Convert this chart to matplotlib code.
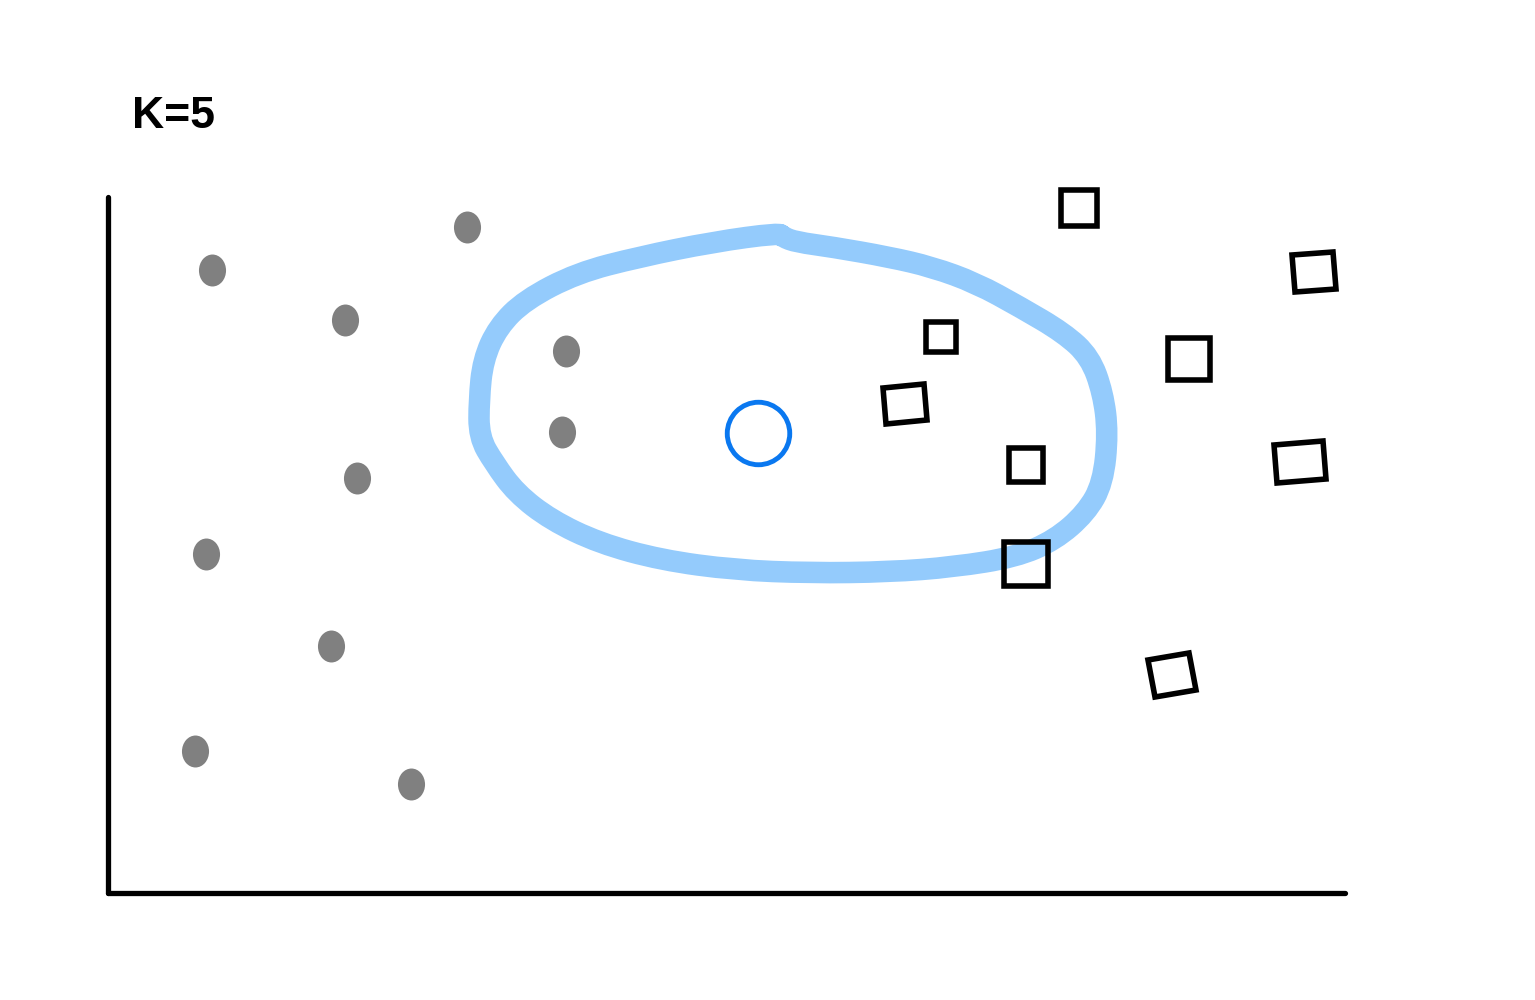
import matplotlib
matplotlib.use("Agg")
import matplotlib.pyplot as plt
from matplotlib.markers import MarkerStyle
from matplotlib.transforms import Affine2D
from matplotlib.path import Path
from matplotlib.patches import PathPatch

# class A: grey dots
dots_x = [1.04, 3.59, 2.37, 4.58, 4.54, 2.49, 0.98, 2.23, 0.87, 3.03]
dots_y = [6.23, 6.66, 5.73, 5.42, 4.61, 4.15, 3.39, 2.47, 1.42, 1.09]

# class B: squares
sq_x = [9.71, 12.06, 8.33, 10.81, 7.97, 9.18, 11.92, 9.18, 10.64]
sq_y = [6.85, 6.21, 5.56, 5.34, 4.89, 4.28, 4.31, 3.29, 2.18]

# query point
query_x = [6.50]
query_y = [4.60]

# hand drawn neighbourhood (k=5) boundary
ring_x = [6.71, 6.05, 5.31, 4.69, 4.17, 3.90, 3.75, 3.71, 3.71, 3.86, 4.08, 4.43,
          4.91, 5.53, 6.27, 7.02, 7.81, 8.46, 9.08, 9.47, 9.78, 9.95, 10.00, 9.95,
          9.82, 9.56, 9.12, 8.68, 8.24, 7.81, 7.24, 6.88, 6.75]
ring_y = [6.60, 6.51, 6.36, 6.20, 5.93, 5.66, 5.33, 4.93, 4.56, 4.30, 4.00, 3.73,
          3.50, 3.33, 3.23, 3.20, 3.21, 3.26, 3.36, 3.53, 3.80, 4.10, 4.60, 5.00,
          5.36, 5.60, 5.86, 6.10, 6.26, 6.36, 6.46, 6.51, 6.56]

# square styling (hand drawn look)
sq_size = [26, 27, 22, 30, 26, 25, 27, 32, 27]
sq_aspect = [1.0, 1.1, 1.0, 1.0, 1.15, 1.0, 1.3, 1.0, 1.1]
sq_angle = [0, 5, 0, 0, 5, 0, 5, 0, 10]


def smooth_closed_path(xs, ys):
    # quadratic bezier through midpoints, original points used as control points
    n = len(xs)
    mids = [((xs[i] + xs[(i + 1) % n]) / 2, (ys[i] + ys[(i + 1) % n]) / 2) for i in range(n)]
    verts = [mids[-1]]
    codes = [Path.MOVETO]
    for i in range(n):
        verts += [(xs[i], ys[i]), mids[i]]
        codes += [Path.CURVE3, Path.CURVE3]
    return Path(verts, codes)


fig = plt.figure(figsize=(15.35, 10), dpi=100)
fig.patch.set_facecolor("white")
ax = fig.add_axes([108 / 1535, 107 / 1000, 1237 / 1535, 696 / 1000])
ax.set_xlim(0, 12.37)
ax.set_ylim(0, 6.96)

# axes as two thick strokes
for side in ["top", "right"]:
    ax.spines[side].set_visible(False)
for side in ["left", "bottom"]:
    ax.spines[side].set_linewidth(3.8)
    ax.spines[side].set_color("black")
    ax.spines[side].set_capstyle("round")
ax.set_xticks([])
ax.set_yticks([])

# boundary
ring = PathPatch(smooth_closed_path(ring_x, ring_y), facecolor="none",
                 edgecolor="#94cbfc", linewidth=15.5, joinstyle="round",
                 capstyle="round", zorder=1)
ax.add_patch(ring)

# grey dots (slightly tall ovals)
dot_marker = MarkerStyle("o", transform=Affine2D().scale(1.0, 1.18))
ax.scatter(dots_x, dots_y, marker=dot_marker, s=19.5 ** 2, color="#808080",
           linewidths=0, zorder=3, clip_on=False)

# squares
for x, y, s, a, r in zip(sq_x, sq_y, sq_size, sq_aspect, sq_angle):
    m = MarkerStyle("s", transform=Affine2D().scale(a, 1.0).rotate_deg(r))
    ax.plot([x], [y], marker=m, markersize=s, markerfacecolor="none",
            markeredgecolor="black", markeredgewidth=4.0, linestyle="none",
            zorder=4, clip_on=False)

# query point
ax.plot(query_x, query_y, marker="o", markersize=45, markerfacecolor="none",
        markeredgecolor="#0a78f0", markeredgewidth=3.5, linestyle="none", zorder=5)

fig.text(132 / 1535, 1 - 128 / 1000, "K=5", fontsize=32, family="Liberation Sans",
         weight="bold", color="black", va="baseline", ha="left")

fig.savefig("out.png", dpi=100, facecolor="white")
plt.close(fig)
